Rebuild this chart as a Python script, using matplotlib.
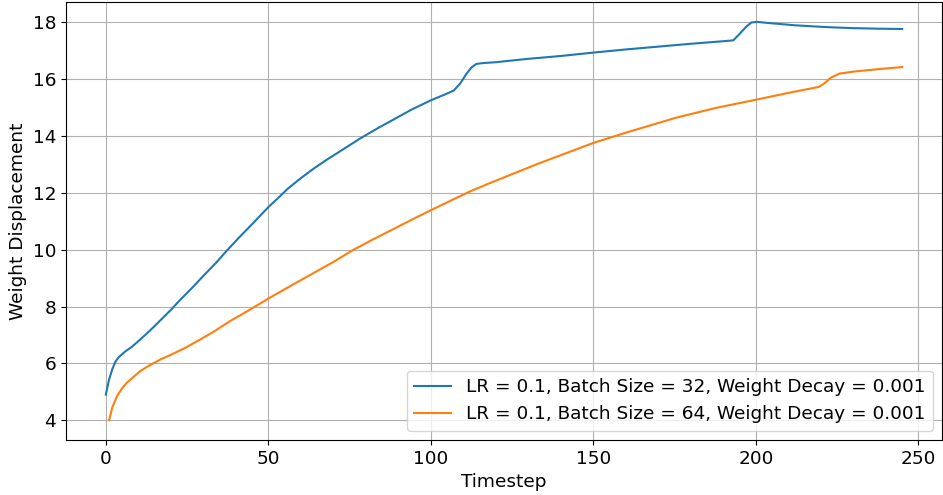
import matplotlib
matplotlib.use("Agg")
import matplotlib.pyplot as plt

# Values
steps_bs32 = [0, 1, 2, 3, 4, 6, 8, 10.5, 14, 17, 20, 23, 27, 30, 34, 37, 41, 45, 50,
              53, 56, 60, 64, 68, 72, 78, 84, 88, 94, 100, 104, 107, 109, 111, 112.5,
              114, 116, 120, 124, 130, 140, 150, 160, 170, 180, 190, 193, 195, 197,
              198.6, 200.5, 203, 207, 212, 218, 223, 230, 238, 245]
disp_bs32 = [4.9, 5.43, 5.8, 6.07, 6.22, 6.42, 6.58, 6.83, 7.2, 7.54, 7.88, 8.25,
             8.71, 9.08, 9.55, 9.94, 10.43, 10.9, 11.5, 11.82, 12.15, 12.52, 12.86,
             13.17, 13.46, 13.9, 14.3, 14.55, 14.93, 15.26, 15.45, 15.6, 15.85, 16.2,
             16.42, 16.54, 16.57, 16.6, 16.65, 16.72, 16.82, 16.94, 17.05, 17.15,
             17.25, 17.34, 17.37, 17.6, 17.85, 18.0, 18.02, 17.99, 17.95, 17.9,
             17.86, 17.83, 17.8, 17.78, 17.77]

steps_bs64 = [1, 2, 3.4, 5, 6.4, 8.5, 10.5, 13, 16.7, 20, 24, 28.9, 33, 38.1, 43,
              50, 57.5, 63, 70, 75.9, 82, 88.2, 94, 100, 106.7, 112, 117.4, 125,
              132.8, 140, 150, 160, 175.2, 188, 200, 210, 219.3, 221, 223, 225.7,
              230, 238, 245]
disp_bs64 = [4.0, 4.45, 4.84, 5.12, 5.31, 5.52, 5.72, 5.9, 6.13, 6.3, 6.52, 6.83,
             7.1, 7.48, 7.8, 8.28, 8.77, 9.12, 9.57, 9.98, 10.35, 10.71, 11.05,
             11.39, 11.76, 12.05, 12.31, 12.66, 13.02, 13.33, 13.76, 14.12, 14.64,
             15.0, 15.28, 15.52, 15.73, 15.85, 16.05, 16.2, 16.27, 16.36, 16.43]

labels = ["LR = 0.1, Batch Size = 32, Weight Decay = 0.001",
          "LR = 0.1, Batch Size = 64, Weight Decay = 0.001"]

plt.rcParams["font.size"] = 13.3

fig, ax = plt.subplots(figsize=(9.43, 4.95), dpi=100)
ax.plot(steps_bs32, disp_bs32, color="#1f77b4", label=labels[0])
ax.plot(steps_bs64, disp_bs64, color="#ff7f0e", label=labels[1])
ax.set_xlabel("Timestep")
ax.set_ylabel("Weight Displacement")
ax.set_xticks([0, 50, 100, 150, 200, 250])
ax.set_yticks([4, 6, 8, 10, 12, 14, 16, 18])
ax.grid(True)
ax.legend(loc="lower right")
fig.subplots_adjust(left=0.070, right=0.999, top=0.996, bottom=0.111)
fig.savefig("out.png", dpi=100)
